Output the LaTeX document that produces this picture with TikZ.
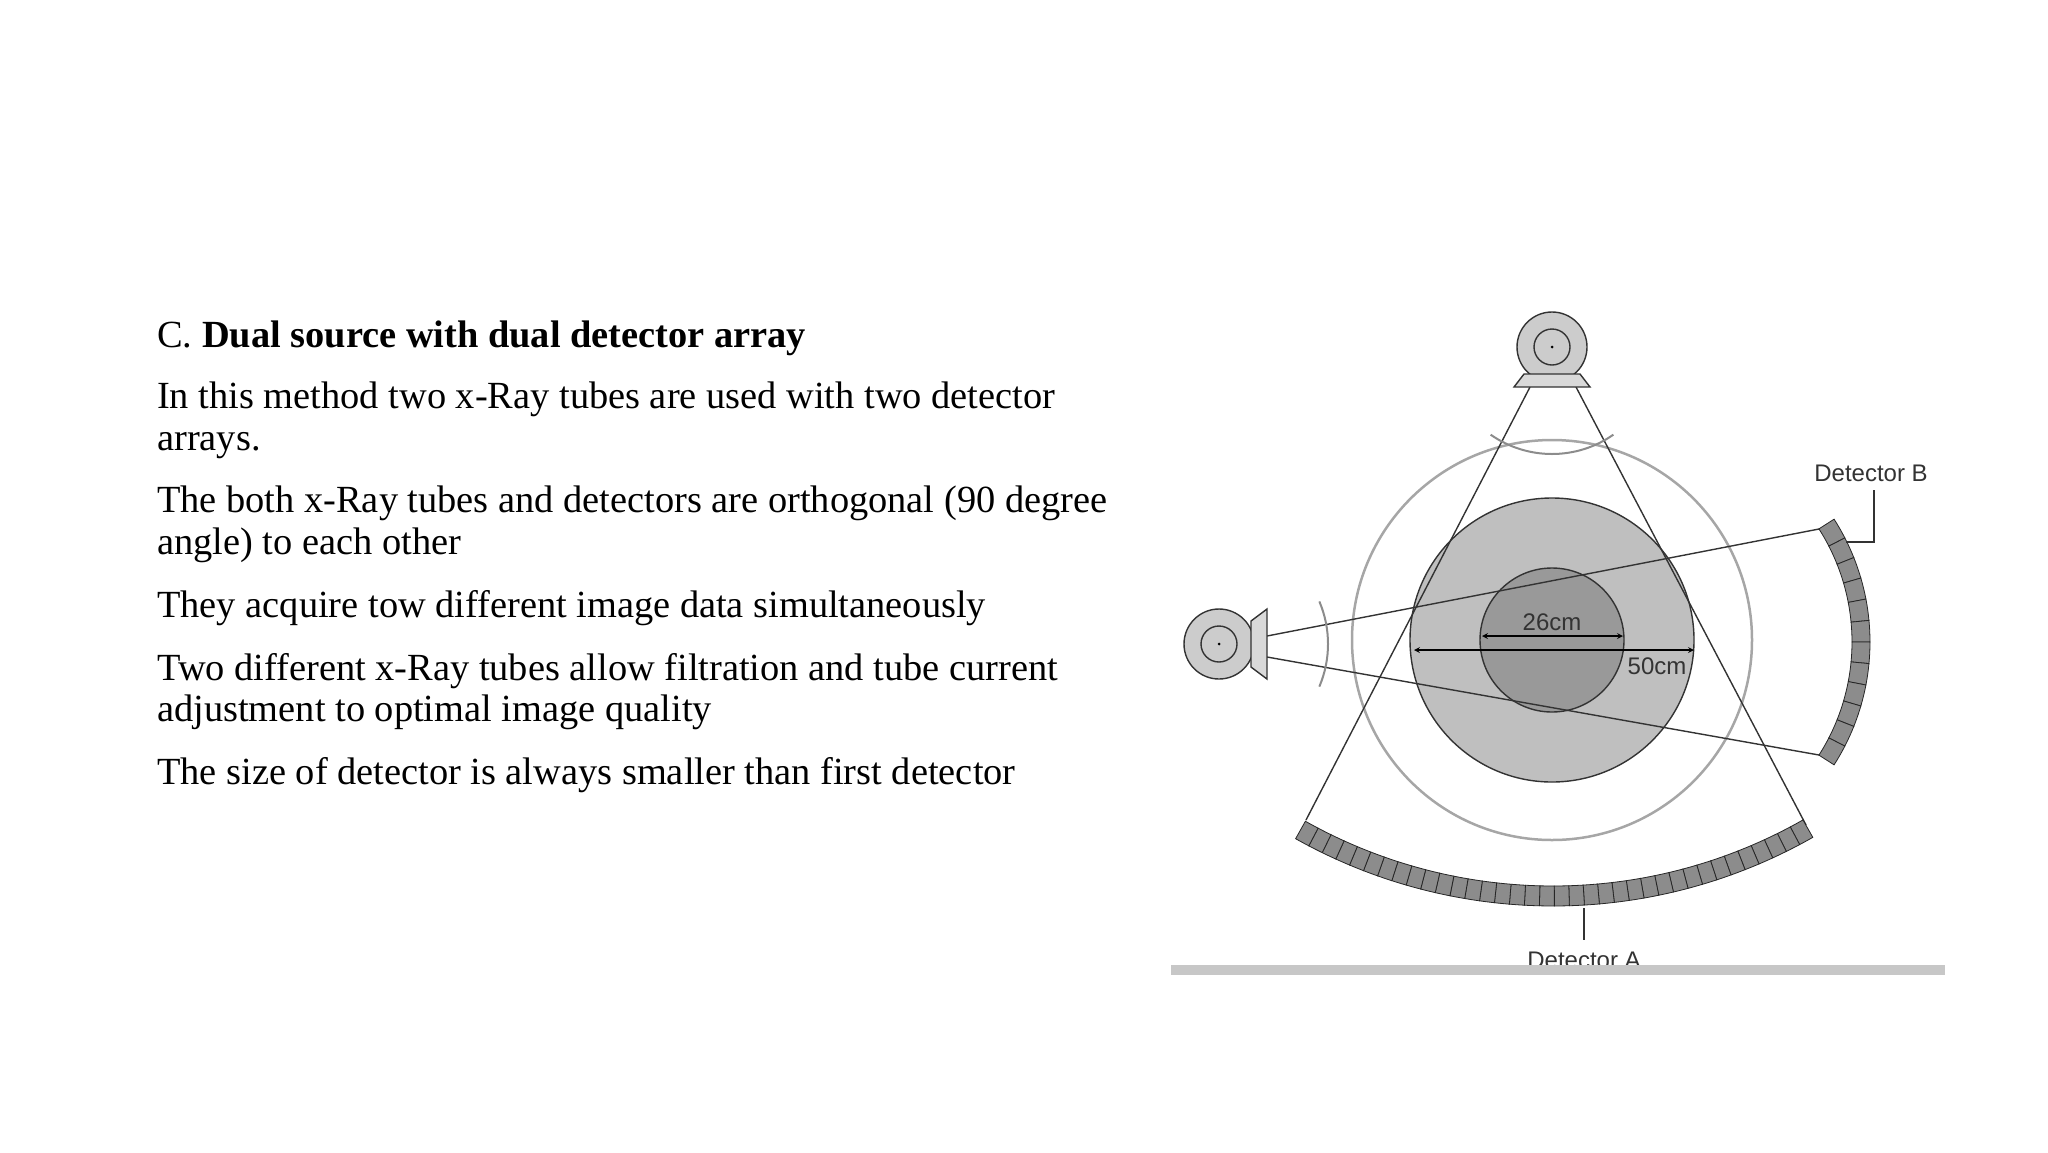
\documentclass[tikz,border=0pt]{standalone}
\usepackage{fontspec}
\setmainfont{Liberation Serif}
\newfontfamily\lab{Liberation Sans}
\begin{document}
\begin{tikzpicture}[x=1pt,y=-1pt,
  txt/.style={anchor=base west,inner sep=0pt,font=\fontsize{38.4}{42}\selectfont},
  small/.style={inner sep=0pt,font=\lab\fontsize{24}{26}\selectfont,text=black!80},
  ln/.style={draw=black!80,line width=1.4pt},
  cell/.style={fill=black!45,draw=black!85,line width=0.8pt}]
\useasboundingbox (0,0) rectangle (2048,1152);
% text
\node[txt] (t0) at (157,347) {C. \textbf{Dual source with dual detector array}};
\node[txt] (t1) at (157,408) {In this method two x-Ray tubes are used with two detector};
\node[txt] (t2) at (157,450) {arrays.};
\node[txt] (t3) at (157,512) {The both x-Ray tubes and detectors are orthogonal (90 degree};
\node[txt] (t4) at (157,554) {angle) to each other};
\node[txt] (t5) at (157,617) {They acquire tow different image data simultaneously};
\node[txt] (t6) at (157,680) {Two different x-Ray tubes allow filtration and tube current};
\node[txt] (t7) at (157,721) {adjustment to optimal image quality};
\node[txt] (t8) at (157,784) {The size of detector is always smaller than first detector};
% circles
\coordinate (c) at (1552,640);
\draw[black!35,line width=2.5pt] (c) circle (200);
\fill[black!25,draw=black!80,line width=1.4pt] (c) circle (142);
\fill[black!40,draw=black!80,line width=1.4pt] (c) circle (72);
% beams
\coordinate (a1) at (1530,387); \coordinate (a2) at (1576,387);
\coordinate (da1) at (1306,820); \coordinate (da2) at (1806,825);
\draw[ln] (a1) -- (da1); \draw[ln] (a2) -- (da2);
\coordinate (b1) at (1267,636); \coordinate (b2) at (1267,657);
\coordinate (db1) at (1819,529); \coordinate (db2) at (1819,755);
\draw[ln] (b1) -- (db1); \draw[ln] (b2) -- (db2);
% filters
\draw[black!45,line width=2pt] (1552,347) ++(55:107) arc (55:125:107);
\draw[black!45,line width=2pt] (1219,644) ++(-23:109) arc (-23:23:109);
% top tube
\node[draw=black!80,fill=black!20,circle,minimum size=70pt,line width=1.4pt] (tubeA) at (1552,347) {};
\draw[black!80,line width=1.4pt] (tubeA) circle (18);
\fill (tubeA) circle (1.5);
\draw[fill=black!15,draw=black!80,line width=1.4pt] (1524,374)--(1580,374)--(1590,387)--(1514,387)--cycle;
% left tube
\node[draw=black!80,fill=black!20,circle,minimum size=70pt,line width=1.4pt] (tubeB) at (1219,644) {};
\draw[black!80,line width=1.4pt] (tubeB) circle (18);
\fill (tubeB) circle (1.5);
\draw[fill=black!15,draw=black!80,line width=1.4pt] (1251,621)--(1267,609)--(1267,679)--(1251,667)--cycle;
% detector A
\foreach \i in {0,...,35}{
  \pgfmathsetmacro\aa{60.4+\i*58.9/36}\pgfmathsetmacro\bb{60.4+(\i+1)*58.9/36}
  \draw[cell] (1553,380) ++(\aa:506) arc (\aa:\bb:506) -- ++(\bb:20) arc (\bb:\aa:526) -- cycle;}
% detector B
\foreach \i in {0,...,11}{
  \pgfmathsetmacro\aa{-32.6+\i*65.2/12}\pgfmathsetmacro\bb{-32.6+(\i+1)*65.2/12}
  \draw[cell] (1642,642) ++(\aa:210) arc (\aa:\bb:210) -- ++(\bb:18) arc (\bb:\aa:228) -- cycle;}
% dimension arrows
\draw[black,line width=1.6pt,<->,>=stealth] (1482,636) -- (1623,636);
\draw[black,line width=1.6pt,<->,>=stealth] (1414,650) -- (1694,650);
\node[small] (d26) at (1552,622) {26cm};
\node[small] (d50) at (1657,666) {50cm};
% labels
\node[small] (lA) at (1584,960) {Detector A};
\coordinate (pA) at (1584,908);
\draw[black!80,line width=1.4pt] (pA) -- (1584,940);
\node[small] (lB) at (1871,473) {Detector B};
\draw[black!80,line width=1.4pt] (1874,490) |- (1846,542);
% floor bar
\fill[black!22] (1171,965) rectangle (1945,975);
\end{tikzpicture}
\end{document}
